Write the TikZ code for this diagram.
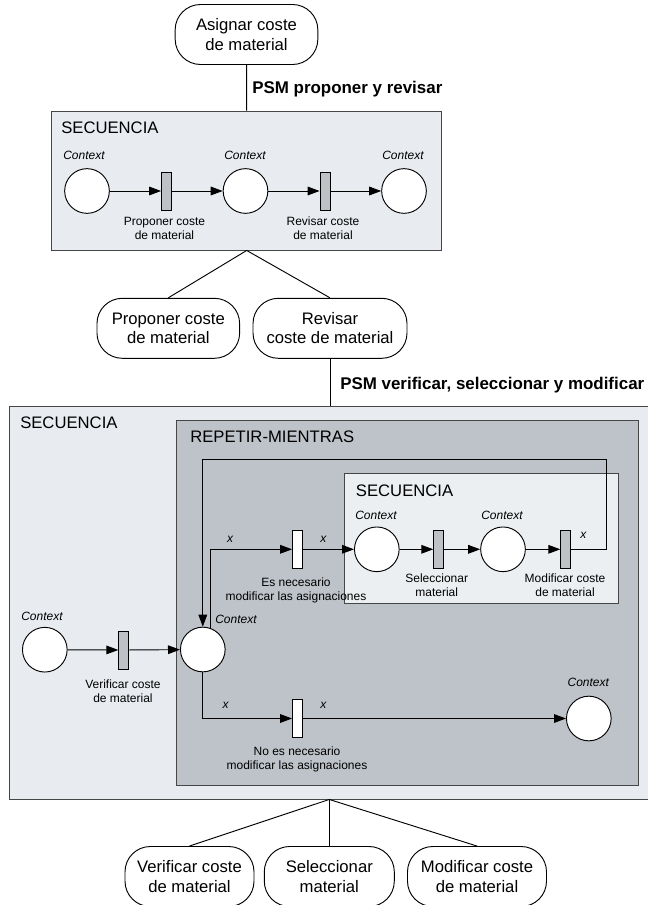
\documentclass[tikz,border=0pt]{standalone}
\usepackage{fontspec}
\setmainfont{Liberation Sans}
\usetikzlibrary{arrows.meta}
\definecolor{seqFill}{RGB}{232,236,240}
\definecolor{repFill}{RGB}{190,195,201}
\definecolor{innFill}{RGB}{236,239,241}
\definecolor{barFill}{RGB}{190,193,198}
\definecolor{lineGray}{RGB}{70,70,70}

\tikzset{
  task/.style={draw, fill=white, rounded corners=19pt, align=center,
    font=\fontsize{12.5}{14.5}\selectfont, minimum height=45pt, inner sep=0pt, line width=0.7pt},
  place/.style={circle, draw, fill=white, minimum size=33.5pt, inner sep=0pt, line width=0.7pt},
  trans/.style={rectangle, draw, fill=barFill, minimum width=7.5pt, minimum height=28.5pt,
    inner sep=0pt, line width=0.6pt},
  transW/.style={trans, fill=white},
  ctx/.style={font=\fontsize{9}{10}\selectfont\itshape, inner sep=0pt},
  lbl/.style={font=\fontsize{9}{10.5}\selectfont, align=center, inner sep=0pt},
  title/.style={font=\fontsize{12.5}{14}\selectfont, anchor=west, inner sep=0pt},
  psm/.style={font=\fontsize{12.7}{14}\selectfont\bfseries, anchor=west, inner sep=0pt},
  arr/.style={-{Triangle[length=9pt,width=6.5pt]}, line width=0.7pt},
  cont/.style={draw=lineGray, line width=0.7pt, inner sep=0pt},
}

\begin{document}
\begin{tikzpicture}[x=0.75pt, y=-0.75pt]
  \useasboundingbox (0,0) rectangle (647,905);

  % first level: proponer y revisar
  \node[task, minimum width=107pt] (asigA) at (246.5,34.5) {Asignar coste\\de material};
  \node[psm] (psmA) at (252,89) {PSM proponer y revisar};
  \node[cont, fill=seqFill, minimum width=292.5pt, minimum height=104.25pt] (seqA) at (246.7,180.5) {};
  \node[title] (seqAt) at (61,128) {SECUENCIA};
  \draw[line width=0.7pt] (asigA) -- (seqA);

  \node[ctx] (ctxA1) at (84,155) {Context};
  \node[ctx] (ctxA2) at (245,155) {Context};
  \node[ctx] (ctxA3) at (403,155) {Context};
  \node[place] (pA1) at (87,191) {};
  \node[place] (pA2) at (245.5,191) {};
  \node[place] (pA3) at (404,191) {};
  \node[trans] (tA1) at (166.5,191) {};
  \node[trans] (tA2) at (325,191) {};
  \node[lbl] (lA1) at (164.5,228) {Proponer coste\\de material};
  \node[lbl] (lA2) at (323,228) {Revisar coste\\de material};
  \draw[arr] (pA1) -- (tA1);
  \draw[arr] (tA1) -- (pA2);
  \draw[arr] (pA2) -- (tA2);
  \draw[arr] (tA2) -- (pA3);

  \node[task, minimum width=107pt] (propA) at (168.3,328.3) {Proponer coste\\de material};
  \node[task, minimum width=115.5pt] (revA) at (330,328.3) {Revisar\\coste de material};
  \draw[line width=0.7pt] (seqA.south) -- (propA.north);
  \draw[line width=0.7pt] (seqA.south) -- (revA.north);

  % second level: verificar, seleccionar y modificar
  \node[psm] (psmB) at (340,385) {PSM verificar, seleccionar y modificar};
  \node[cont, fill=seqFill, minimum width=480pt, minimum height=294.75pt] (seqB) at (329.3,602.5) {};
  \node[cont, fill=repFill, minimum width=346.2pt, minimum height=273.75pt] (repB) at (407.5,602.5) {};
  \node[cont, fill=innFill, minimum width=205.7pt, minimum height=97.5pt] (seqC) at (481.2,538.3) {};
  \node[title] (seqBt) at (20,423) {SECUENCIA};
  \node[title] (repBt) at (190,437) {REPETIR-MIENTRAS};
  \node[title] (seqCt) at (355.7,490.7) {SECUENCIA};
  \draw[line width=0.7pt] (revA) -- (revA |- seqB.north);

  \node[ctx] (ctxB1) at (42,616) {Context};
  \node[ctx] (ctxB2) at (236,619) {Context};
  \node[ctx] (ctxB3) at (376,515) {Context};
  \node[ctx] (ctxB4) at (502,515) {Context};
  \node[ctx] (ctxB5) at (588.3,682.3) {Context};
  \node[place] (pB1) at (44.8,649.7) {};
  \node[place] (pB2) at (202.8,649.5) {};
  \node[place] (pB3) at (376.8,549.3) {};
  \node[place] (pB4) at (503,549.3) {};
  \node[place] (pB5) at (588.8,718.5) {};
  \node[trans] (tB1) at (123.7,650) {};
  \node[transW] (tB2) at (297.5,549.3) {};
  \node[trans] (tB3) at (438.7,549.3) {};
  \node[trans] (tB4) at (565.7,549.3) {};
  \node[transW] (tB5) at (297.5,718.5) {};
  \node[lbl] (lB1) at (123,691) {Verificar coste\\de material};
  \node[lbl] (lB2) at (296,590.3) {Es necesario\\modificar las asignaciones};
  \node[lbl] (lB3) at (436.7,585.5) {Seleccionar\\material};
  \node[lbl] (lB4) at (565,585) {Modificar coste\\de material};
  \node[lbl] (lB5) at (297,759) {No es necesario\\modificar las asignaciones};
  \node[ctx] (xB1) at (230,539.3) {x};
  \node[ctx] (xB2) at (323.3,539.3) {x};
  \node[ctx] (xB3) at (583.3,535.7) {x};
  \node[ctx] (xB4) at (225.7,705.7) {x};
  \node[ctx] (xB5) at (323.3,705.7) {x};
  \coordinate (loopR) at (606,459.3);

  \draw[arr] (pB1) -- (tB1);
  \draw[arr] (tB1) -- (pB2);
  \draw[arr] (pB2.70) |- (tB2);
  \draw[arr] (tB2) -- (pB3);
  \draw[arr] (pB3) -- (tB3);
  \draw[arr] (tB3) -- (pB4);
  \draw[arr] (pB4) -- (tB4);
  \draw[arr] (tB4) -| (loopR) -| (pB2);
  \draw[arr] (pB2) |- (tB5);
  \draw[arr] (tB5) -- (pB5);

  \node[task, minimum width=96.75pt] (verA) at (189.5,876.5) {Verificar coste\\de material};
  \node[task, minimum width=97.5pt] (selA) at (329.3,876.5) {Seleccionar\\material};
  \node[task, minimum width=104.25pt] (modA) at (477,876.5) {Modificar coste\\de material};
  \draw[line width=0.7pt] (seqB.south) -- (verA.north);
  \draw[line width=0.7pt] (seqB.south) -- (selA.north);
  \draw[line width=0.7pt] (seqB.south) -- (modA.north);
\end{tikzpicture}
\end{document}
